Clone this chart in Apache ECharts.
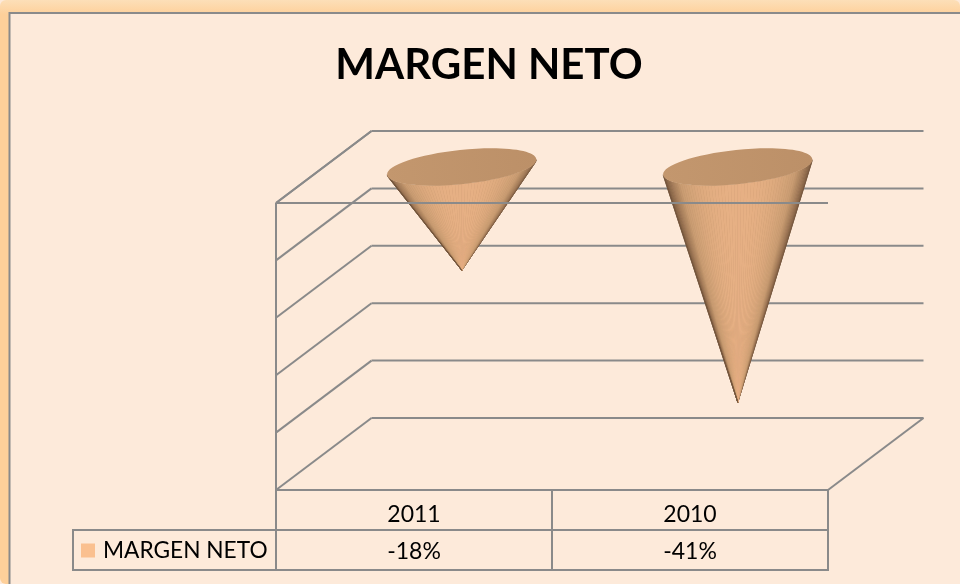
<!DOCTYPE html>
<html>
<head>
<meta charset="utf-8">
<title>MARGEN NETO</title>
<style>
  html, body { margin: 0; padding: 0; background: #fdeada; }
  /* the source is an upscaled screenshot, everything in it is a bit soft */
  #app { width: 960px; height: 584px; filter: blur(0.45px); }
</style>
<script src="https://cdn.jsdelivr.net/npm/echarts@6/dist/echarts.min.js"></script>
</head>
<body>
<div id="app"></div>
<script>
const categories = ["2011", "2010"];
const margenNeto = [-18, -41];
const gridTicks = [0, -10, -20, -30, -40, -50];
const seriesName = "MARGEN NETO";

const LINE = "#8a8a8a";
const FONT = "Lato";
// shift from the front plane to the back wall, the chart is a fake 3d one
const DEPTH_X = 95.5;
const DEPTH_Y = 72;
// cone top ellipse
const RIM_A = 75;
const RIM_B = 17;
const RIM_TILT = (-6 * Math.PI) / 180;
const ROW_H = 40;

var myChart = echarts.init(document.getElementById("app"));

function line(x1, y1, x2, y2, width) {
  return {
    type: "line",
    shape: { x1: x1, y1: y1, x2: x2, y2: y2 },
    style: { stroke: LINE, lineWidth: width || 2, fill: null }
  };
}

// left side and width of the whole plot, read back from the axes
function plotEdges(api, value) {
  let band = api.size([1, 0])[0];
  let p = api.coord([0, value]);
  return { left: p[0] - band / 2, right: p[0] - band / 2 + band * categories.length, y: p[1], band: band };
}

function renderWalls(params, api) {
  let e = plotEdges(api, api.value(0));
  let children = [
    line(e.left, e.y, e.left + DEPTH_X, e.y - DEPTH_Y),
    line(e.left + DEPTH_X, e.y - DEPTH_Y, e.right + DEPTH_X, e.y - DEPTH_Y)
  ];
  // floor
  if (params.dataIndex === gridTicks.length - 1) {
    children.push(line(e.right, e.y, e.right + DEPTH_X, e.y - DEPTH_Y));
    children.push(line(e.left, e.y, e.right, e.y));
  }
  return { type: "group", children: children };
}

function rimPoint(cx, cy, t) {
  let x = RIM_A * Math.cos(t);
  let y = RIM_B * Math.sin(t);
  return [
    cx + x * Math.cos(RIM_TILT) - y * Math.sin(RIM_TILT),
    cy + x * Math.sin(RIM_TILT) + y * Math.cos(RIM_TILT)
  ];
}

function coneShade(u) {
  // u is -1 at the left silhouette, 1 at the right one
  let k = Math.min(1, Math.pow(Math.abs(u), 2.6));
  return echarts.color.lerp(k, ["#e6b084", "#c99c72", "#6f5139"]);
}

function renderCone(params, api) {
  let tip = api.coord([api.value(0), api.value(1)]);
  let base = api.coord([api.value(0), 0]);
  let cx = base[0] + DEPTH_X / 2;
  let cy = base[1] - DEPTH_Y / 2;
  let tipX = tip[0] + DEPTH_X / 2;
  let tipY = tip[1] - DEPTH_Y / 2;

  // lower half of the rim, fan of thin triangles down to the tip
  let steps = 70;
  let start = Math.atan2(-RIM_B * Math.sin(RIM_TILT), RIM_A * Math.cos(RIM_TILT));
  let rim = [];
  for (let i = 0; i <= steps; i++) {
    rim.push(rimPoint(cx, cy, start + (Math.PI * i) / steps));
  }
  // body under the fan so the seams between triangles do not show
  let children = [
    {
      type: "polygon",
      shape: { points: [[tipX, tipY]].concat(rim) },
      style: { fill: "#b58b64" }
    }
  ];
  for (let i = 0; i < steps; i++) {
    let u = (rim[i][0] + rim[i + 1][0]) / 2 - cx;
    let c = coneShade(u / RIM_A);
    children.push({
      type: "polygon",
      shape: { points: [[tipX, tipY], rim[i], rim[i + 1]] },
      style: { fill: c, stroke: c, lineWidth: 0.25 }
    });
  }
  children.push({
    type: "ellipse",
    shape: { cx: cx, cy: cy, rx: RIM_A, ry: RIM_B },
    rotation: -RIM_TILT,
    originX: cx,
    originY: cy,
    style: {
      fill: {
        type: "linear",
        x: 0,
        y: 0,
        x2: 1,
        y2: 0,
        colorStops: [
          { offset: 0, color: "#c3976e" },
          { offset: 1, color: "#bc9068" }
        ]
      }
    }
  });
  return { type: "group", children: children };
}

function renderFront(params, api) {
  let e = plotEdges(api, api.value(0));
  let floor = plotEdges(api, gridTicks[gridTicks.length - 1]);
  return {
    type: "group",
    children: [
      line(e.left, e.y, e.right, e.y),
      line(e.left, e.y, e.left + DEPTH_X, e.y - DEPTH_Y),
      line(e.left, e.y, e.left, floor.y)
    ]
  };
}

function renderTable(params, api) {
  let floor = plotEdges(api, gridTicks[gridTicks.length - 1]);
  let x0 = floor.left + floor.band * api.value(0);
  let children = [
    { type: "rect", shape: { x: x0, y: floor.y, width: floor.band, height: ROW_H }, style: { fill: null, stroke: LINE, lineWidth: 2 } },
    { type: "rect", shape: { x: x0, y: floor.y + ROW_H, width: floor.band, height: ROW_H }, style: { fill: null, stroke: LINE, lineWidth: 2 } },
    {
      type: "text",
      style: {
        x: x0 + floor.band / 2,
        y: floor.y + ROW_H * 1.5 + 2,
        text: api.value(1) + "%",
        fill: "#000",
        font: "23px " + FONT,
        align: "center",
        verticalAlign: "middle"
      }
    }
  ];
  if (params.dataIndex === 0) {
    // cell that holds the legend key
    children.push({
      type: "rect",
      shape: { x: 73, y: floor.y + ROW_H, width: x0 - 73, height: ROW_H },
      style: { fill: null, stroke: LINE, lineWidth: 2 }
    });
  }
  return { type: "group", children: children };
}

var option = {
  animation: false,
  backgroundColor: "#fdeada",
  title: {
    text: seriesName,
    left: 484,
    top: 39,
    textAlign: "center",
    textStyle: { fontFamily: FONT, fontWeight: "bold", fontSize: 42, color: "#000" }
  },
  legend: {
    left: 81,
    top: 539,
    padding: 0,
    icon: "rect",
    itemWidth: 14,
    itemHeight: 14,
    itemGap: 8,
    data: [seriesName],
    textStyle: { fontFamily: FONT, fontSize: 22.7, color: "#000", padding: [0, 0, 0, 3] }
  },
  grid: { left: 276, top: 203, width: 552, height: 287 },
  xAxis: {
    type: "category",
    data: categories,
    axisLine: { show: false, onZero: false },
    axisTick: { show: false },
    axisLabel: { margin: 13, fontFamily: FONT, fontSize: 23, color: "#000" }
  },
  yAxis: {
    type: "value",
    min: -50,
    max: 0,
    interval: 10,
    axisLine: { show: false },
    axisTick: { show: false },
    axisLabel: { show: false },
    splitLine: { show: false }
  },
  graphic: [
    {
      type: "rect",
      z: -20,
      shape: { x: 0, y: 0, width: 960, height: 584, r: 6 },
      style: {
        fill: {
          type: "linear",
          x: 0,
          y: 0,
          x2: 0,
          y2: 0.025,
          colorStops: [
            { offset: 0, color: "#fcdfb8" },
            { offset: 1, color: "#fed09a" }
          ]
        }
      }
    },
    {
      type: "rect",
      z: -19,
      shape: { x: 9.5, y: 13, width: 960, height: 600 },
      style: { fill: "#fdeada", stroke: LINE, lineWidth: 2 }
    }
  ],
  series: [
    {
      type: "custom",
      name: "walls",
      z: 2,
      silent: true,
      renderItem: renderWalls,
      encode: { y: 0 },
      data: gridTicks.map((v) => [v])
    },
    {
      type: "custom",
      name: seriesName,
      z: 3,
      renderItem: renderCone,
      itemStyle: { color: "#fac090" },
      encode: { x: 0, y: 1 },
      data: categories.map((c, i) => [i, margenNeto[i]])
    },
    {
      type: "custom",
      name: "front",
      z: 4,
      silent: true,
      renderItem: renderFront,
      encode: { y: 0 },
      data: [[gridTicks[0]]]
    },
    {
      type: "custom",
      name: "table",
      z: 4,
      silent: true,
      renderItem: renderTable,
      encode: { x: 0 },
      data: categories.map((c, i) => [i, margenNeto[i]])
    }
  ]
};

myChart.setOption(option);
</script>
</body>
</html>
